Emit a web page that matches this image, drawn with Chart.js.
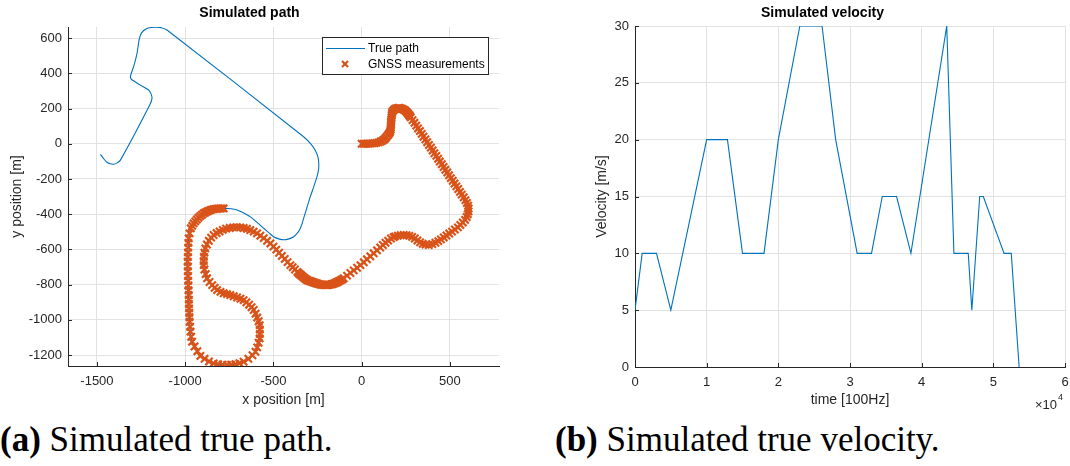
<!DOCTYPE html>
<html>
<head>
  <title>Simulated path and velocity</title>
  <style>
    body {
      margin: 0;
      background: #fff;
      width: 1070px;
      height: 466px;
      overflow: hidden;
      position: relative;
    }
    #path-canvas { position: absolute; left: 0; top: 0; }
    #velocity-canvas { position: absolute; left: 580px; top: 0; }
    .caption {
      position: absolute;
      top: 420px;
      font-family: 'Liberation Serif', 'Times New Roman', serif;
      font-size: 35px;
      line-height: 40px;
      color: #000;
      white-space: nowrap;
    }
  </style>
  <script src="https://cdn.jsdelivr.net/npm/chart.js"></script>

  <script>
    // ---- left plot: path ----
    const pathXTicks = [-1500, -1000, -500, 0, 500];
    const pathYTicks = [-1200, -1000, -800, -600, -400, -200, 0, 200, 400, 600];
    const pathXRange = [-1664, 778];
    const pathYRange = [-1262, 663];
    const legendLabels = ['True path', 'GNSS measurements'];

    // true path, [x, y] in metres
    const truePath = [
      [0,0],[87,6],[134,31],[163,78],[167,135],[172,182],[200,202],[230,198],[258,176],[278,150],
      [588,-320],[603,-352],[605,-384],[595,-416],[573,-447],[545,-475],[496,-510],[449,-543],[400,-570],
      [380,-575],[346,-568],[316,-549],[286,-529],[254,-519],[221,-519],[181,-530],[150,-550],[120,-575],
      [-7,-689],[-102,-764],[-144,-788],[-172,-798],[-206,-802],[-242,-797],[-283,-783],[-309,-774],
      [-350,-741],[-404,-689],[-517,-566],[-574,-522],[-631,-490],[-688,-475],[-728,-475],[-768,-482],
      [-805,-498],[-839,-518],[-866,-551],[-886,-594],[-895,-666],[-891,-714],[-876,-764],[-847,-803],
      [-819,-831],[-763,-854],[-669,-888],[-638,-914],[-612,-944],[-592,-987],[-578,-1030],[-577,-1080],
      [-584,-1130],[-602,-1181],[-642,-1221],[-693,-1246],[-740,-1255],[-788,-1255],[-839,-1247],
      [-890,-1221],[-931,-1178],[-961,-1124],[-975,-1011],[-986,-670],[-980,-537],[-968,-480],[-952,-452],
      [-915,-411],[-876,-385],[-839,-371],[-782,-367],
      [-740,-369],[-706,-376],[-668,-393],[-631,-415],[-593,-446],[-555,-480],[-525,-506],[-499,-528],
      [-470,-540],[-442,-545],[-412,-540],[-385,-528],[-365,-508],[-350,-485],[-338,-455],[-329,-424],
      [-309,-358],[-291,-300],[-272,-245],[-253,-187],[-245,-150],[-243,-115],[-248,-75],[-262,-40],
      [-285,-5],[-329,40],[-1103,646],[-1135,659],[-1165,662],[-1195,660],[-1225,650],[-1248,628],
      [-1260,595],[-1273,513],[-1290,445],[-1310,385],[-1306,367],[-1282,351],[-1254,333],[-1207,305],
      [-1193,282],[-1188,258],[-1201,220],[-1367,-93],[-1388,-110],[-1405,-116],[-1425,-114],[-1443,-105],
      [-1462,-85],[-1480,-60]
    ];

    // GNSS measurements, [x, y] in metres
    const gnss = [
      [0,0],[12,0],[24,0],[36,1],[48,1],[60,2],[72,3],[84,5],[96,8],[108,13],[118,18],[127,24],[134,31],
      [141,39],[148,48],[154,56],[158,62],[162,71],[164,80],[165,90],[165,100],[166,110],[166,120],
      [167,130],[168,140],[169,150],[170,160],[171,170],[173,180],[178,188],[185,195],[192,199],[200,202],
      [208,203],[215,203],[223,201],[230,198],[238,194],[245,190],[252,183],[258,176],[264,169],[270,162],
      [274,156],[278,150],[288,134],[299,119],[309,103],[319,87],[330,72],[340,56],[350,40],[361,25],
      [371,9],[381,-7],[392,-22],[402,-38],[412,-54],[423,-69],[433,-85],[443,-101],[454,-116],[464,-132],
      [474,-148],[485,-163],[495,-179],[505,-195],[516,-210],[526,-226],[536,-242],[547,-257],[557,-273],
      [567,-289],[578,-304],[588,-320],[596,-336],[603,-352],[606,-368],[605,-384],[601,-400],[595,-416],
      [586,-432],[573,-447],[559,-461],[545,-475],[528,-487],[512,-499],[496,-510],[480,-521],[465,-532],
      [449,-543],[434,-553],[418,-562],[400,-570],[380,-575],[362,-573],[346,-568],[331,-560],[316,-549],
      [301,-538],[286,-529],[270,-523],[254,-519],[238,-518],[221,-519],[205,-522],[189,-526],[181,-530],
      [166,-538],[150,-550],[135,-562],[120,-575],[105,-589],[87,-605],[68,-622],[49,-639],[30,-656],
      [12,-673],[-7,-689],[-26,-704],[-45,-719],[-64,-734],[-83,-749],[-102,-764],[-109,-769],[-116,-773],
      [-123,-777],[-130,-781],[-137,-785],[-144,-788],[-151,-791],[-158,-794],[-165,-796],[-172,-798],
      [-179,-800],[-186,-801],[-193,-802],[-200,-802],[-207,-802],[-214,-802],[-221,-801],[-228,-800],
      [-235,-799],[-242,-797],[-249,-795],[-256,-793],[-263,-791],[-270,-788],[-277,-786],[-283,-783],
      [-290,-781],[-296,-779],[-303,-777],[-309,-774],[-316,-769],[-322,-764],[-329,-759],[-336,-753],
      [-343,-747],[-350,-741],[-357,-735],[-364,-728],[-378,-714],[-391,-701],[-404,-689],[-420,-672],
      [-436,-654],[-452,-637],[-468,-619],[-484,-601],[-500,-584],[-517,-566],[-536,-551],[-555,-536],
      [-574,-522],[-593,-509],[-612,-499],[-631,-490],[-650,-483],[-669,-478],[-688,-475],[-708,-474],
      [-728,-475],[-748,-478],[-768,-482],[-787,-489],[-805,-498],[-822,-507],[-839,-518],[-853,-533],
      [-866,-551],[-877,-572],[-886,-594],[-891,-618],[-894,-642],[-895,-666],[-895,-689],[-891,-714],
      [-884,-740],[-876,-764],[-862,-785],[-847,-803],[-833,-818],[-819,-831],[-800,-841],[-782,-849],
      [-763,-854],[-744,-859],[-725,-866],[-706,-873],[-687,-880],[-669,-888],[-653,-900],[-638,-914],
      [-624,-928],[-612,-944],[-601,-965],[-592,-987],[-584,-1008],[-578,-1030],[-577,-1055],[-577,-1080],
      [-578,-1105],[-584,-1130],[-592,-1156],[-602,-1181],[-619,-1201],[-642,-1221],[-669,-1238],
      [-693,-1246],[-716,-1252],[-740,-1255],[-763,-1256],[-788,-1255],[-814,-1252],[-839,-1247],
      [-865,-1236],[-890,-1221],[-914,-1205],[-931,-1178],[-947,-1151],[-961,-1124],[-966,-1096],
      [-970,-1067],[-972,-1039],[-975,-1011],[-976,-985],[-977,-960],[-978,-935],[-979,-910],[-979,-885],
      [-980,-859],[-981,-832],[-982,-805],[-983,-778],[-984,-751],[-985,-724],[-985,-697],[-986,-670],
      [-985,-643],[-984,-617],[-983,-590],[-982,-563],[-980,-537],[-975,-509],[-968,-480],[-960,-466],
      [-952,-452],[-943,-441],[-934,-430],[-925,-420],[-915,-411],[-905,-403],[-895,-395],[-886,-390],
      [-876,-385],[-867,-381],[-858,-377],[-849,-374],[-839,-371],[-830,-370],[-820,-369],[-810,-368],
      [-801,-368],[-791,-367],[-782,-367]
    ];

    // ---- right plot: velocity ----
    const velTime = [0, 1000, 3000, 5000, 10000, 12900, 15000, 18000, 20000, 23000, 26100, 28000, 31000,
      33000, 34500, 36500, 38500, 43500, 44500, 46500, 47000, 48100, 48600, 51500, 52500, 53600];
    const velValue = [5, 10, 10, 5, 20, 20, 10, 10, 20, 30, 30, 20, 10,
      10, 15, 15, 10, 30, 10, 10, 5, 15, 15, 10, 10, 0];
    const velXTicks = [0, 10000, 20000, 30000, 40000, 50000, 60000];
    const velXTickLabels = ['0', '1', '2', '3', '4', '5', '6'];
    const velYTicks = [0, 5, 10, 15, 20, 25, 30];

    const FONT = "'Liberation Sans', Arial, Helvetica, sans-serif";
    const AXIS = '#262626';
    const GRID = '#e2e2e2';

    // matlab style ticks pointing into the axes
    const innerTicks = {
      id: 'innerTicks',
      afterDraw(chart) {
        const { ctx, chartArea: a, scales: { x, y } } = chart;
        ctx.save();
        ctx.strokeStyle = AXIS;
        ctx.lineWidth = 1;
        ctx.beginPath();
        x.ticks.forEach(t => {
          const px = Math.round(x.getPixelForValue(t.value)) + 0.5;
          ctx.moveTo(px, a.bottom);
          ctx.lineTo(px, a.bottom - 4);
        });
        y.ticks.forEach(t => {
          const py = Math.round(y.getPixelForValue(t.value)) + 0.5;
          ctx.moveTo(a.left, py);
          ctx.lineTo(a.left + 4, py);
        });
        ctx.stroke();
        ctx.restore();
      }
    };

    const pathLegend = {
      id: 'pathLegend',
      afterDraw(chart) {
        const { ctx, chartArea: a } = chart;
        const ds = chart.data.datasets;
        const w = 166, h = 37;
        const x0 = a.right - 11 - w, y0 = a.top + 10;
        ctx.save();
        ctx.fillStyle = '#fff';
        ctx.fillRect(x0, y0, w, h);
        ctx.strokeStyle = AXIS;
        ctx.lineWidth = 1;
        ctx.strokeRect(x0 + 0.5, y0 + 0.5, w, h);

        ctx.strokeStyle = ds[0].borderColor;
        ctx.beginPath();
        ctx.moveTo(x0 + 4, y0 + 11.5);
        ctx.lineTo(x0 + 43, y0 + 11.5);
        ctx.stroke();

        ctx.strokeStyle = ds[1].pointBorderColor;
        ctx.lineWidth = 2.2;
        const mx = x0 + 23, my = y0 + 27, r = 3;
        ctx.beginPath();
        ctx.moveTo(mx - r, my - r); ctx.lineTo(mx + r, my + r);
        ctx.moveTo(mx - r, my + r); ctx.lineTo(mx + r, my - r);
        ctx.stroke();

        ctx.fillStyle = '#000';
        ctx.font = '12px ' + FONT;
        ctx.textBaseline = 'middle';
        ctx.textAlign = 'left';
        ctx.fillText(legendLabels[0], x0 + 46, y0 + 12);
        ctx.fillText(legendLabels[1], x0 + 46, y0 + 28);
        ctx.restore();
      }
    };

    const exponentLabel = {
      id: 'exponentLabel',
      afterDraw(chart) {
        const { ctx, chartArea: a } = chart;
        ctx.save();
        ctx.fillStyle = AXIS;
        ctx.textBaseline = 'middle';
        ctx.textAlign = 'right';
        ctx.font = '13px ' + FONT;
        ctx.fillText('\u00d710', a.right - 8, 405);
        ctx.textAlign = 'left';
        ctx.font = '9px ' + FONT;
        ctx.fillText('4', a.right - 7, 398);
        ctx.restore();
      }
    };

    function fixedScale(size, ticks, labels) {
      return {
        afterBuildTicks: s => { s.ticks = ticks.map(v => ({ value: v })); },
        afterFit: s => {
          if (s.isHorizontal()) s.height = size; else s.width = size;
          s.paddingLeft = s.paddingRight = s.paddingTop = s.paddingBottom = 0;
        },
        ticks: {
          autoSkip: false,
          maxRotation: 0,
          color: AXIS,
          font: { family: FONT, size: 13 },
          callback: (v, i) => labels ? labels[i] : String(ticks[i])
        },
        grid: { color: GRID, drawTicks: false },
        border: { color: AXIS, width: 1 }
      };
    }

    function titleOpts(text, top, bottom) {
      return {
        display: true,
        text: text,
        color: '#000',
        font: { family: FONT, size: 14, weight: 'bold' },
        padding: { top: top, bottom: bottom }
      };
    }

    function axisTitle(text, top, bottom) {
      return { display: true, text: text, color: AXIS, font: { family: FONT, size: 14 }, padding: { top: top, bottom: bottom } };
    }

    document.addEventListener('DOMContentLoaded', function () {
      Chart.defaults.font.family = FONT;

      const px = fixedScale(54, pathXTicks);
      px.min = pathXRange[0]; px.max = pathXRange[1];
      px.ticks.padding = 8;
      px.title = axisTitle('x position [m]', 0, 11.6);
      const py = fixedScale(68, pathYTicks);
      py.min = pathYRange[0]; py.max = pathYRange[1];
      py.ticks.padding = 6;
      py.title = axisTitle('y position [m]', 8.6, 0);

      new Chart(document.getElementById('path-canvas'), {
        type: 'scatter',
        data: {
          datasets: [
            {
              label: legendLabels[0],
              data: truePath.map(p => ({ x: p[0], y: p[1] })),
              showLine: true,
              borderColor: '#0072BD',
              borderWidth: 1.1,
              pointRadius: 0,
              tension: 0.2,
              order: 1
            },
            {
              label: legendLabels[1],
              data: gnss.map(p => ({ x: p[0], y: p[1] })),
              showLine: false,
              pointStyle: 'crossRot',
              pointRadius: 5.2,
              pointBorderWidth: 2.2,
              pointBorderColor: '#D95319',
              borderColor: '#D95319',
              order: 0
            }
          ]
        },
        options: {
          responsive: false,
          animation: false,
          events: [],
          layout: { padding: { left: 0, right: 21, top: 0, bottom: 0 } },
          plugins: {
            legend: { display: false },
            tooltip: { enabled: false },
            title: titleOpts('Simulated path', 5, 5.2)
          },
          scales: { x: px, y: py }
        },
        plugins: [innerTicks, pathLegend]
      });

      const vx = fixedScale(53, velXTicks, velXTickLabels);
      vx.min = 0; vx.max = 60000;
      vx.ticks.padding = 8;
      vx.title = axisTitle('time [100Hz]', 0, 11.6);
      const vy = fixedScale(55, velYTicks);
      vy.min = 0; vy.max = 30;
      vy.ticks.padding = 6;
      vy.title = axisTitle('Velocity [m/s]', 13.6, 0);

      new Chart(document.getElementById('velocity-canvas'), {
        type: 'scatter',
        data: {
          datasets: [{
            label: 'Velocity',
            data: velTime.map((t, i) => ({ x: t, y: velValue[i] })),
            showLine: true,
            borderColor: '#0072BD',
            borderWidth: 1.1,
            pointRadius: 0,
            tension: 0
          }]
        },
        options: {
          responsive: false,
          animation: false,
          events: [],
          layout: { padding: { left: 0, right: 5, top: 0, bottom: 0 } },
          plugins: {
            legend: { display: false },
            tooltip: { enabled: false },
            title: titleOpts('Simulated velocity', 5, 4.2)
          },
          scales: { x: vx, y: vy }
        },
        plugins: [innerTicks, exponentLabel]
      });
    });
  </script>
</head>
<body>
  <canvas id="path-canvas" width="520" height="420"></canvas>
  <canvas id="velocity-canvas" width="490" height="420"></canvas>
  <div class="caption" style="left:0"><b>(a)</b> Simulated true path.</div>
  <div class="caption" style="left:555px"><b>(b)</b> Simulated true velocity.</div>
</body>
</html>
